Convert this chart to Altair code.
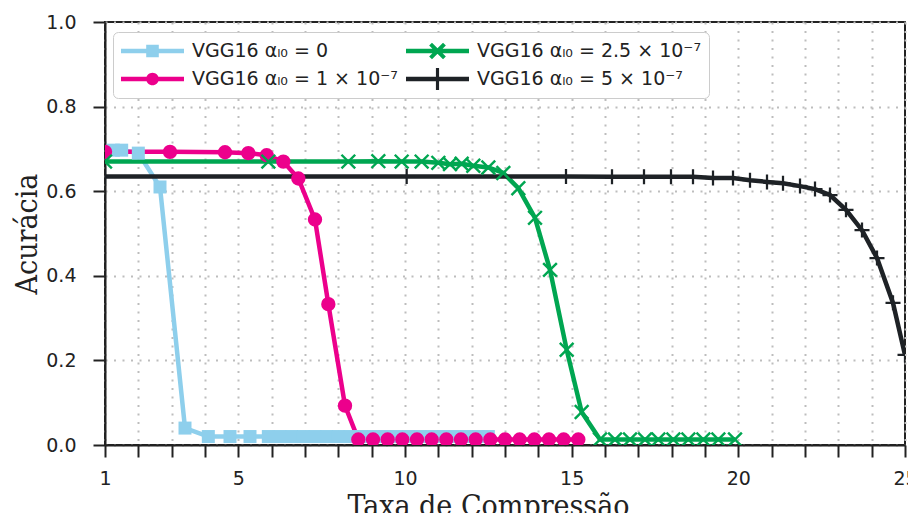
import altair as alt
import pandas as pd

# ---- data ----
series_names = [
    "VGG16 αₗ₀ = 0",
    "VGG16 αₗ₀ = 1 × 10⁻⁷",
    "VGG16 αₗ₀ = 2.5 × 10⁻⁷",
    "VGG16 αₗ₀ = 5 × 10⁻⁷",
]
# sort keys giving the legend's row-major order (row 1: 0, 2.5 ; row 2: 1, 5)
series_keys = ["a", "c", "b", "d"]

blue_x = [1.25, 1.5, 2.0, 2.65, 3.4, 4.1, 4.75, 5.35, 5.9, 6.25, 6.6, 6.95, 7.3,
          7.65, 8.0, 8.35, 8.7, 9.05, 9.4, 9.75, 10.1, 10.45, 10.8, 11.15, 11.5,
          11.85, 12.2, 12.5]
blue_y = [0.697, 0.697, 0.69, 0.61, 0.04, 0.02, 0.02, 0.02, 0.02, 0.02, 0.02,
          0.02, 0.02, 0.02, 0.02, 0.02, 0.02, 0.02, 0.02, 0.02, 0.02, 0.02, 0.02,
          0.02, 0.02, 0.02, 0.02, 0.02]

pink_x = [1.0, 2.95, 4.6, 5.3, 5.85, 6.35, 6.8, 7.3, 7.7, 8.2, 8.6, 9.04, 9.48,
          9.92, 10.36, 10.8, 11.24, 11.68, 12.12, 12.56, 13.0, 13.44, 13.88,
          14.32, 14.76, 15.2]
pink_y = [0.693, 0.693, 0.692, 0.69, 0.685, 0.67, 0.63, 0.533, 0.333, 0.093,
          0.013, 0.013, 0.013, 0.013, 0.013, 0.013, 0.013, 0.013, 0.013, 0.013,
          0.013, 0.013, 0.013, 0.013, 0.013, 0.013]

green_x = [1.0, 5.9, 8.3, 9.2, 9.9, 10.5, 11.0, 11.35, 11.7, 12.05, 12.5, 12.95,
           13.4, 13.9, 14.35, 14.85, 15.3, 15.85, 16.3, 16.75, 17.2, 17.6, 18.05,
           18.5, 18.95, 19.4, 19.9]
green_y = [0.67, 0.67, 0.67, 0.671, 0.67, 0.67, 0.667, 0.664, 0.665, 0.66, 0.656,
           0.643, 0.607, 0.537, 0.414, 0.225, 0.078, 0.013, 0.013, 0.013, 0.013,
           0.013, 0.013, 0.013, 0.013, 0.013, 0.013]

black_x = [1.0, 10.05, 14.83, 16.21, 17.17, 17.98, 18.64, 19.24, 19.84, 20.35,
           20.86, 21.34, 21.85, 22.3, 22.75, 23.23, 23.71, 24.16, 24.64, 25.0]
black_y = [0.635, 0.635, 0.635, 0.634, 0.634, 0.634, 0.634, 0.631, 0.631, 0.626,
           0.622, 0.619, 0.612, 0.605, 0.591, 0.556, 0.508, 0.442, 0.336, 0.213]

colors = ["#8ecfec", "#ec008c", "#00a651", "#1e2226"]

x_domain = [1, 25]
x_ticks = list(range(1, 26))
x_labels = [1, 5, 10, 15, 20, 25]
y_ticks = [0.0, 0.2, 0.4, 0.6, 0.8, 1.0]

rows = []
for key, xs, ys in zip(series_keys,
                       [blue_x, pink_x, green_x, black_x],
                       [blue_y, pink_y, green_y, black_y]):
    for i, (a, b) in enumerate(zip(xs, ys)):
        rows.append({"series": key, "x": a, "y": b, "order": i})
df = pd.DataFrame(rows)

key_to_name = dict(zip(series_keys, series_names))
key_to_color = dict(zip(series_keys, colors))
dom = sorted(series_keys)                 # a, b, c, d
rng = [key_to_color[k] for k in dom]
legend_label_expr = " : ".join(
    f"datum.label == '{k}' ? '{key_to_name[k]}'" for k in dom) + " : datum.label"

# marker paths (plot)
sq = "M-1,-1H1V1H-1Z"
d = 0.125
xm = (f"M{-1+d},{-1-d}L{1+d},{1-d}L{1-d},{1+d}L{-1-d},{-1+d}Z"
      f"M{-1-d},{1-d}L{1-d},{-1-d}L{1+d},{-1+d}L{-1+d},{1+d}Z")
t = 0.15
pl = (f"M-1,{-t}H{-t}V-1H{t}V{-t}H1V{t}H{t}V1H{-t}V{t}H-1Z")
marker_path = {"a": sq, "b": xm, "c": "circle", "d": pl}
marker_size = {"a": 169, "b": 225, "c": 135, "d": 500}

# legend paths (line + marker), unit = 31.5 px
ln = "M-1,-0.071H1V0.071H-1Z"
lsq = ln + "M-0.2,-0.2H0.2V0.2H-0.2Z"
lci = ln + "M0.2,0A0.2,0.2 0 1,1 -0.2,0A0.2,0.2 0 1,1 0.2,0Z"
s = 0.22
e = 0.045
lx = ln + (f"M{-s+e},{-s-e}L{s+e},{s-e}L{s-e},{s+e}L{-s-e},{-s+e}Z"
           f"M{-s-e},{s-e}L{s-e},{-s-e}L{s+e},{-s+e}L{-s+e},{s+e}Z")
pt = 0.05
pa = 0.35
lpl = ln + (f"M{-pa},{-pt}H{-pt}V{-pa}H{pt}V{-pt}H{pa}V{pt}H{pt}V{pa}H{-pt}V{pt}H{-pa}Z")
legend_path = {"a": lsq, "b": lx, "c": lci, "d": lpl}

xenc = alt.X("x:Q", scale=alt.Scale(domain=x_domain, nice=False, zero=False),
             axis=alt.Axis(values=x_ticks, tickCount=40, orient="bottom", format="d",
                           labelExpr="indexof(" + str(x_labels) + ", datum.value) >= 0 ? datum.label : ''",
                           labelOverlap=False, labelFlush=False, labelPadding=12,
                           title="Taxa de Compressão", titleX=383, titleY=70,
                           titleBaseline="alphabetic"))
yenc = alt.Y("y:Q", scale=alt.Scale(domain=[0, 1], nice=False),
             axis=alt.Axis(values=y_ticks, format=".1f", title="Acurácia",
                           titleX=-78, titleY=211.5, titleAngle=-90,
                           titleBaseline="middle", titleAlign="center",
                           labelPadding=17, labelFlush=False))

cscale = alt.Scale(domain=dom, range=rng)

lines = alt.Chart(df).mark_line(strokeWidth=4.5, clip=True).encode(
    x=xenc, y=yenc,
    color=alt.Color("series:N", scale=cscale, legend=None),
    order="order:Q",
)

points = alt.Chart(df).mark_point(filled=True, opacity=1, clip=True, strokeWidth=0).encode(
    x="x:Q", y="y:Q",
    color=alt.Color("series:N", scale=cscale, legend=None),
    shape=alt.Shape("series:N", scale=alt.Scale(domain=dom, range=[marker_path[k] for k in dom]), legend=None),
    size=alt.Size("series:N", scale=alt.Scale(domain=dom, range=[marker_size[k] for k in dom]), legend=None),
)

leg = alt.Legend(title=None, orient="none", legendX=8, legendY=10, columns=2,
                 direction="horizontal", labelExpr=legend_label_expr,
                 columnPadding=8, rowPadding=6, clipHeight=22, symbolSize=3969,
                 symbolStrokeWidth=0, symbolOpacity=1, labelFont="DejaVu Sans",
                 labelFontSize=19, labelColor="#222222", labelOffset=8, padding=8,
                 strokeColor="#cccccc", fillColor="white", cornerRadius=5,
                 labelLimit=400)

legend_layer = alt.Chart(df).mark_point(filled=True, size=0, clip=True).encode(
    x="x:Q", y="y:Q",
    color=alt.Color("series:N", scale=alt.Scale(domain=dom, range=rng), legend=leg),
    shape=alt.Shape("series:N", scale=alt.Scale(domain=dom, range=[legend_path[k] for k in dom]), legend=leg),
)

chart = alt.layer(lines, points, legend_layer).resolve_scale(
    color="independent", shape="independent", size="independent"
).properties(
    width=800, height=423,
    padding={"left": 97, "top": 14, "right": 3, "bottom": 68},
    autosize=alt.AutoSizeParams(type="none"),
).configure_view(
    stroke="#222222", strokeWidth=2
).configure_axis(
    grid=True, gridDash=[2, 6.5], gridColor="#bdbdbd", gridWidth=2,
    tickSize=12, tickWidth=2, tickColor="#222222",
    domainColor="#222222", domainWidth=2,
    labelFont="DejaVu Sans", labelFontSize=19, labelColor="#222222",
    titleFont="DejaVu Serif Condensed", titleFontSize=30, titleFontWeight="normal",
    titleColor="#222222",
)

chart.save("out.html", embed_options={"renderer": "svg", "actions": False})
